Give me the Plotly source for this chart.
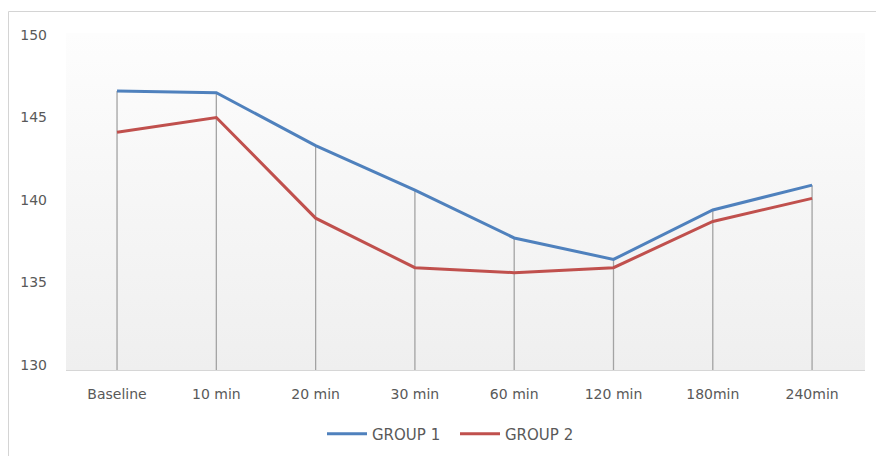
import plotly.graph_objects as go

# Time points and mean values for the two groups
categories = ["Baseline", "10 min", "20 min", "30 min", "60 min", "120 min", "180min", "240min"]
group1 = [146.9, 146.8, 143.6, 140.9, 138.0, 136.7, 139.7, 141.2]
group2 = [144.4, 145.3, 139.2, 136.2, 135.9, 136.2, 139.0, 140.4]
y_ticks = [130, 135, 140, 145, 150]

W, H = 876, 456
PLOT_L, PLOT_R, PLOT_T, PLOT_B = 66, 865, 33, 370

x_pos = list(range(len(categories)))
x_lo, x_hi = -0.514, len(categories) - 1 + 0.533
y_lo, y_hi = 130, 150.42

BLUE = "#4F81BD"
RED = "#C0504D"
TEXT = "#595959"
FONT = "DejaVu Sans"

fig = go.Figure()

# Plot-area background: vertical gradient from light grey to near white
fig.add_trace(go.Scatter(
    x=[x_lo, x_hi, x_hi, x_lo, x_lo],
    y=[y_lo, y_lo, y_hi, y_hi, y_lo],
    mode="none", fill="toself",
    fillgradient=dict(type="vertical",
                      colorscale=[[0, "#efefef"], [1, "#fdfdfd"]]),
    hoverinfo="skip", showlegend=False,
))

# Drop lines from the higher of the two series down to the axis
dx, dy = [], []
for i, (a, b) in enumerate(zip(group1, group2)):
    dx += [i, i, None]
    dy += [y_ticks[0], max(a, b), None]
fig.add_trace(go.Scatter(
    x=dx, y=dy, mode="lines",
    line=dict(color="#a3a3a3", width=1.3),
    hoverinfo="skip", showlegend=False,
))

fig.add_trace(go.Scatter(
    x=x_pos, y=group1, mode="lines", name="GROUP 1",
    line=dict(color=BLUE, width=3),
))
fig.add_trace(go.Scatter(
    x=x_pos, y=group2, mode="lines", name="GROUP 2",
    line=dict(color=RED, width=3),
))

pw = PLOT_R - PLOT_L
ph = PLOT_B - PLOT_T


def px(xp):
    return (xp - PLOT_L) / pw


def py(yp):
    return (PLOT_B - yp) / ph


# Chart outer border (top and left edges visible)
border = dict(color="#d4d4d4", width=1)
fig.add_shape(type="line", xref="paper", yref="paper",
              x0=px(8.5), x1=px(W + 5), y0=py(11.5), y1=py(11.5), line=border)
fig.add_shape(type="line", xref="paper", yref="paper",
              x0=px(8.5), x1=px(8.5), y0=py(11.5), y1=py(H + 5), line=border)

fig.update_layout(
    width=W, height=H,
    margin=dict(l=PLOT_L, r=W - PLOT_R, t=PLOT_T, b=H - PLOT_B, pad=0,
                autoexpand=False),
    paper_bgcolor="white", plot_bgcolor="white",
    font=dict(family=FONT, size=14, color=TEXT),
    showlegend=True,
    legend=dict(orientation="h", xref="container", yref="container",
                x=455 / W, y=1 - 434 / H,
                xanchor="center", yanchor="middle",
                font=dict(family=FONT, size=15, color=TEXT),
                itemwidth=40, entrywidth=78, tracegroupgap=0,
                bgcolor="rgba(0,0,0,0)"),
    xaxis=dict(
        range=[x_lo, x_hi], tickmode="array", tickvals=x_pos, ticktext=categories,
        showgrid=False, zeroline=False, showline=True, linecolor="#d6d6d6",
        linewidth=1, ticks="", ticklabelstandoff=11,
        tickfont=dict(family=FONT, size=14, color=TEXT),
    ),
    yaxis=dict(
        range=[y_lo, y_hi], tickmode="array", tickvals=y_ticks,
        showgrid=False, zeroline=False, showline=False, ticks="",
        ticklabelstandoff=18, ticklabelshift=-5,
        tickfont=dict(family=FONT, size=14, color=TEXT),
    ),
)

fig.write_html("out.html")
